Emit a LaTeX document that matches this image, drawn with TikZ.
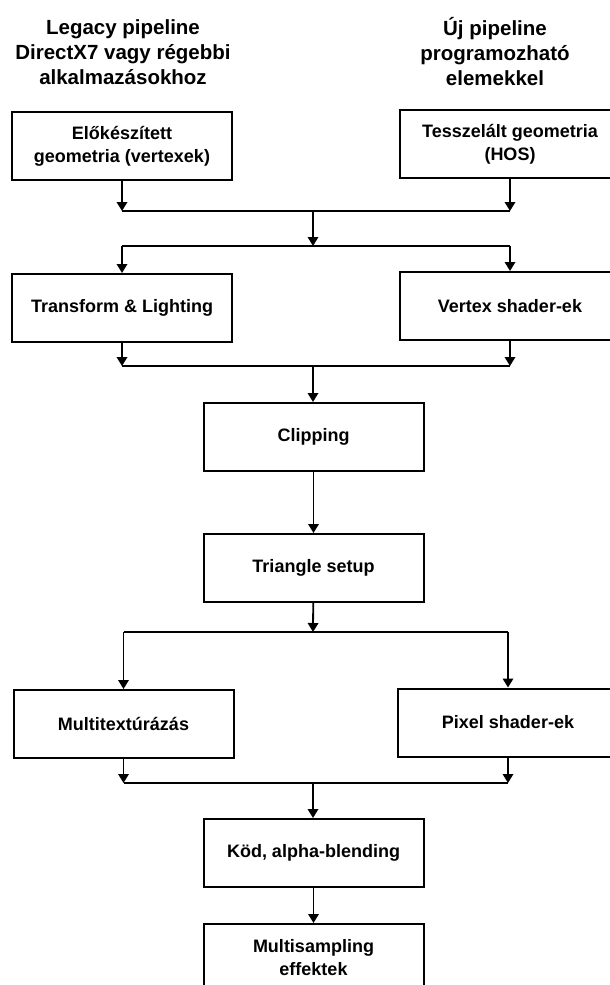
\documentclass[tikz,border=0pt]{standalone}
\usepackage{fontspec}
\setmainfont{Liberation Sans}
\usetikzlibrary{arrows.meta, positioning, calc}

\begin{document}
\begin{tikzpicture}[
    x=1pt, y=-1pt,
    node distance=2cm,
    box/.style={rectangle, draw=black, line width=2pt, minimum width=220pt, minimum height=68pt, inner sep=0pt, align=center, font=\bfseries\fontsize{18}{23}\selectfont},
    header/.style={align=center, inner sep=0pt, font=\bfseries\fontsize{20.5}{25}\selectfont},
    bus/.style={line width=1.8pt},
    arrow/.style={line width=1.8pt, -{Triangle[width=10.5pt,length=9pt]}}
]
\useasboundingbox (0,0) rectangle (610,985);
\clip (0,0) rectangle (610,985);

% Headers
\node[header] (legacy) at (123,52) {Legacy pipeline\\DirectX7 vagy régebbi\\alkalmazásokhoz};
\node[header] (newpipe) at (495,52) {Új pipeline\\programozható\\elemekkel};

% Geometry input
\node[box] (prep) at (122,146) {Előkészített\\geometria (vertexek)};
\node[box] (tess) at (510,144) {Tesszelált geometria\\(HOS)};

% Vertex stage
\node[box, below=92pt of prep] (tl) {Transform \& Lighting};
\node[box, below=92pt of tess] (vs) {Vertex shader-ek};

% Fixed stages
\node[box] (clip) at (313.5,437) {Clipping};
\node[box, below=61pt of clip] (tri) {Triangle setup};

% Pixel stage
\node[box] (mt) at (123.5,724) {Multitextúrázás};
\node[box] (ps) at (508,722.5) {Pixel shader-ek};

% Output
\node[box] (fog) at (313.5,853) {Köd, alpha-blending};
\node[box, below=35pt of fog] (msaa) {Multisampling\\effektek};

% Bus points
\coordinate (m1) at (313,211);
\coordinate (s1) at (313,246);
\coordinate (m2) at (313,366);
\coordinate (s2) at (313,632);
\coordinate (m3) at (313,783);

% Arrows
\draw[arrow] (prep) -- (prep |- m1);
\draw[arrow] (tess) -- (tess |- m1);
\draw[bus] (prep |- m1) -- (tess |- m1);
\draw[arrow] (m1) -- (s1);
\draw[bus] (tl |- s1) -- (vs |- s1);
\draw[arrow] (tl |- s1) -- (tl);
\draw[arrow] (vs |- s1) -- (vs);

\draw[arrow] (tl) -- (tl |- m2);
\draw[arrow] (vs) -- (vs |- m2);
\draw[bus] (tl |- m2) -- (vs |- m2);
\draw[arrow] (m2) -- (m2 |- clip.north);
\draw[arrow] (clip) -- (tri);

\draw[arrow] (tri) -- (s2);
\draw[bus] (mt |- s2) -- (ps |- s2);
\draw[arrow] (mt |- s2) -- (mt);
\draw[arrow] (ps |- s2) -- (ps);

\draw[arrow] (mt) -- (mt |- m3);
\draw[arrow] (ps) -- (ps |- m3);
\draw[bus] (mt |- m3) -- (ps |- m3);
\draw[arrow] (m3) -- (m3 |- fog.north);
\draw[arrow] (fog) -- (msaa);

\end{tikzpicture}
\end{document}
